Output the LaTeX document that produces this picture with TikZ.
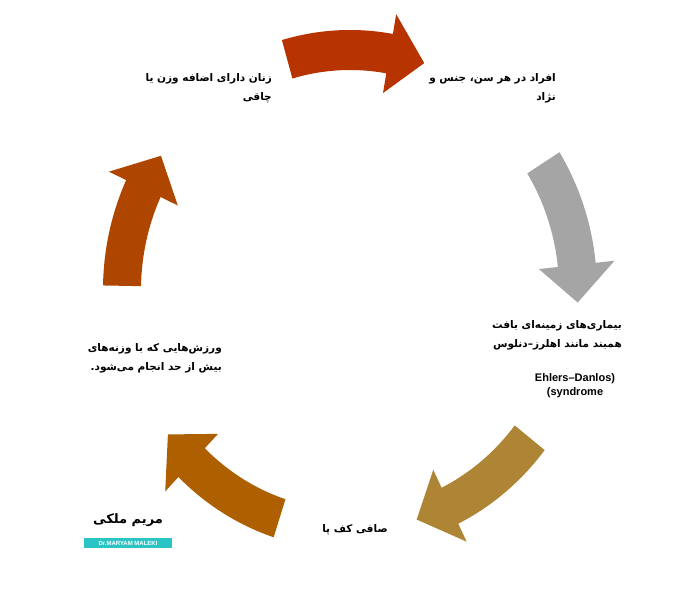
\documentclass[tikz,border=0pt]{standalone}
\usepackage{fontspec}
\TeXXeTstate=1
\newfontfamily\arabicfont[Script=Arabic]{DejaVu Sans}
\setsansfont{Liberation Sans}
\definecolor{arA}{HTML}{B73300}
\definecolor{arB}{HTML}{A5A5A5}
\definecolor{arC}{HTML}{AE8535}
\definecolor{arD}{HTML}{AE6000}
\definecolor{arE}{HTML}{AF4600}
\definecolor{logoteal}{HTML}{2BC4C4}
\newcommand{\blockarrow}[4]{% color, start, body end, tip
  \fill[#1] (#2:260) arc[start angle=#2,end angle=#3,radius=260] -- (#3:280) -- (#4:240) -- (#3:200) -- (#3:220) arc[start angle=#3,end angle=#2,radius=220] -- cycle;}
\begin{document}
\begin{tikzpicture}[x=1pt,y=1pt,
  lbl/.style={font=\arabicfont\bfseries\fontsize{10.5}{19}\selectfont,align=right,inner sep=0pt}]
\fill[white] (0,0) rectangle (700,600);
\useasboundingbox (0,0) rectangle (700,600);
\begin{scope}[shift={(350,310)},xscale=0.95]
\blockarrow{arA}{106}{80}{71}
\blockarrow{arB}{32}{6}{-3}
\blockarrow{arC}{-38}{-64}{-73}
\blockarrow{arD}{-108}{-134}{-143}
\blockarrow{arE}{179}{155}{146}
\end{scope}
\node[lbl,anchor=north east] (t1) at (272,527) {\beginR زنان دارای اضافه وزن یا\endR\\\beginR چاقی\endR};
\node[lbl,anchor=north east] (t2) at (556,527) {\beginR افراد در هر سن، جنس و\endR\\\beginR نژاد\endR};
\node[lbl,anchor=north east] (t3) at (622,280) {\beginR بیماری‌های زمینه‌ای بافت\endR\\\beginR همبند مانند اهلرز–دنلوس\endR};
\node[lbl,font=\sffamily\bfseries\fontsize{11}{14}\selectfont,align=center] (t4) at (575,214) {Ehlers–Danlos)\\(syndrome};
\node[lbl,anchor=north east] (t5) at (222,257) {\beginR ورزش‌هایی که با وزنه‌های\endR\\\beginR بیش از حد انجام می‌شود.\endR};
\node[lbl] (t6) at (355,70) {\beginR صافی کف پا\endR};
\node[font=\arabicfont\bfseries\fontsize{13}{13}\selectfont] (logo) at (128,80) {\beginR مریم ملکی\endR};
\node[fill=logoteal,text=white,font=\sffamily\bfseries\fontsize{6}{6}\selectfont,minimum width=88,minimum height=10,inner sep=1pt] (logob) at (128,57) {Dr.MARYAM MALEKI};
\end{tikzpicture}
\end{document}
